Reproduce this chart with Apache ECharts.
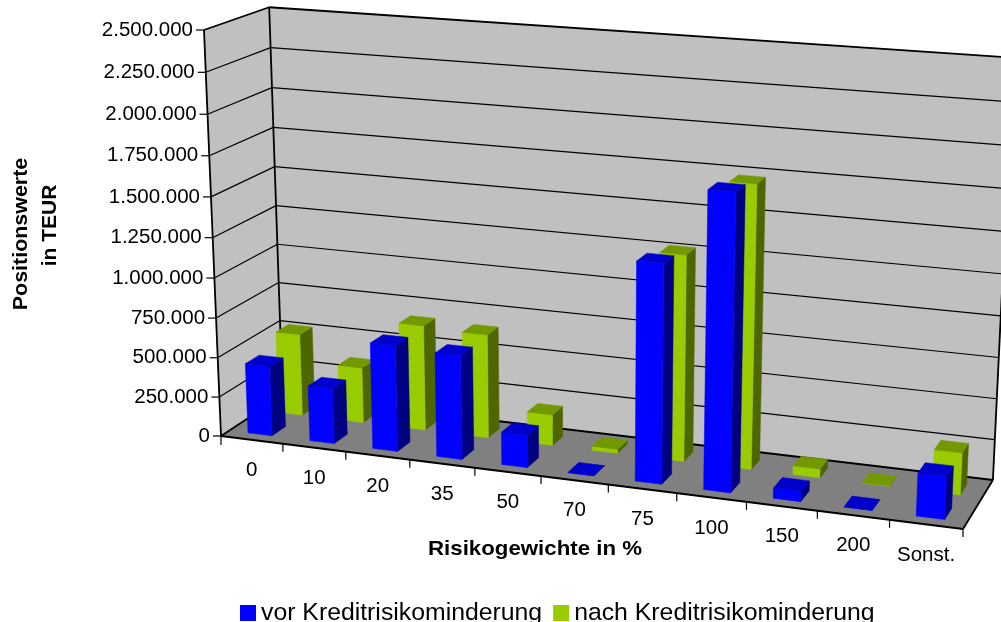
<!DOCTYPE html>
<html>
<head>
<meta charset="utf-8">
<style>html,body{margin:0;padding:0;background:#fff}#chart{width:1001px;height:622px}</style>
<script src="https://cdn.jsdelivr.net/npm/echarts@6/dist/echarts.min.js"></script>
</head>
<body>
<div id="chart"></div>
<script>
// Exposure values by risk weight, in TEUR
const categories = ['0', '10', '20', '35', '50', '70', '75', '100', '150', '200', 'Sonst.'];
const vorValues = [444000, 348000, 663000, 646000, 202000, 1500, 1327000, 1780000, 62000, 1500, 256000];
const nachValues = [525000, 354000, 668000, 655000, 194000, 25000, 1271000, 1731000, 55000, 1500, 255000];
const yTickValues = [0, 250000, 500000, 750000, 1000000, 1250000, 1500000, 1750000, 2000000, 2250000, 2500000];
const yTickLabels = ['0', '250.000', '500.000', '750.000', '1.000.000', '1.250.000', '1.500.000', '1.750.000', '2.000.000', '2.250.000', '2.500.000'];

const FONT = '"Liberation Sans", Arial, sans-serif';
const plot = { left: 221, top: 30, width: 742, height: 406 };

// Perspective box: the origin corner plus one projective column per world axis.
const origin = [221, 436];
const colU = axisColumn([963, 529], 0.91);
const colV = axisColumn([204, 30], 0.955);
const colZ = axisColumn([282.6, 395.5], 1.0484);

function axisColumn(p, w) {
  return [w * p[0] - origin[0], w * p[1] - origin[1], w - 1];
}
function project(u, v, z) {
  const h = 1 + u * colU[2] + v * colV[2] + z * colZ[2];
  return [
    (origin[0] + u * colU[0] + v * colV[0] + z * colZ[0]) / h,
    (origin[1] + u * colU[1] + v * colV[1] + z * colZ[1]) / h
  ];
}
// Pixel position on the flat grid -> unit coordinates of the box
function unit(api, cat, val) {
  const p = api.coord([cat, val]);
  return [(p[0] - plot.left) / plot.width, (plot.top + plot.height - p[1]) / plot.height];
}
function poly(points, fill, stroke, lineWidth) {
  return {
    type: 'polygon',
    shape: { points },
    style: { fill, stroke: stroke || fill, lineWidth: lineWidth === undefined ? 0.5 : lineWidth }
  };
}
function line(a, b, width) {
  return {
    type: 'line',
    shape: { x1: a[0], y1: a[1], x2: b[0], y2: b[1] },
    style: { stroke: '#000', lineWidth: width, fill: null }
  };
}
function label(text, x, y, align) {
  return {
    type: 'text',
    style: { text, x, y, fill: '#000', font: '20.5px ' + FONT, align, verticalAlign: 'middle' }
  };
}

// Walls, floor, gridlines, ticks and tick labels
function renderFrame(params, api) {
  const children = [];
  const P = (u, v, z) => project(u, v, z);
  children.push(poly([P(0, 0, 0), P(0, 0, 1), P(0, 1, 1), P(0, 1, 0)], '#c0c0c0'));
  children.push(poly([P(0, 0, 1), P(1, 0, 1), P(1, 1, 1), P(0, 1, 1)], '#c0c0c0'));
  children.push(poly([P(0, 0, 0), P(1, 0, 0), P(1, 0, 1), P(0, 0, 1)], '#808080'));

  yTickValues.forEach((val, i) => {
    const v = unit(api, 0, val)[1];
    const front = P(0, v, 0), back = P(0, v, 1), right = P(1, v, 1);
    if (i > 0 && i < yTickValues.length - 1) {
      children.push(line(front, back, 1.2), line(back, right, 1.2));
    }
    children.push(line([front[0] - 8, front[1]], front, 1.2));
    children.push(label(yTickLabels[i], front[0] - 11, front[1], 'right'));
  });

  [[P(0, 0, 0), P(0, 1, 0)], [P(0, 1, 0), P(0, 1, 1)], [P(0, 1, 1), P(1, 1, 1)],
   [P(0, 1, 1), P(0, 0, 1)], [P(0, 0, 1), P(1, 0, 1)], [P(1, 0, 1), P(1, 1, 1)],
   [P(0, 0, 0), P(1, 0, 0)], [P(1, 0, 0), P(1, 0, 1)], [P(0, 0, 0), P(0, 0, 1)]]
    .forEach(e => children.push(line(e[0], e[1], 1.8)));

  categories.forEach((name, i) => {
    const edge = P((i + 1) / categories.length, 0, 0);
    children.push(line(edge, [edge[0], edge[1] + 8], 1.2));
    const mid = P((i + 0.5) / categories.length, 0, 0);
    children.push(label(name, mid[0], mid[1] + 30.5, 'center'));
  });
  const start = P(0, 0, 0);
  children.push(line(start, [start[0], start[1] + 9], 1.2));
  return { type: 'group', children };
}

// One extruded column: front, right side and top faces
function barRenderer(zNear, zFar, colors) {
  return function (params, api) {
    const cat = api.value(0);
    const val = api.value(1);
    const band = api.size([1, 0])[0] / plot.width;
    const top = unit(api, cat, val);
    const u0 = top[0] - band * 0.195;
    const u1 = top[0] + band * 0.195;
    const v = top[1];
    return {
      type: 'group',
      children: [
        poly([project(u1, 0, zNear), project(u1, 0, zFar), project(u1, v, zFar), project(u1, v, zNear)], colors.side),
        poly([project(u0, 0, zNear), project(u1, 0, zNear), project(u1, v, zNear), project(u0, v, zNear)], colors.front),
        poly([project(u0, v, zNear), project(u1, v, zNear), project(u1, v, zFar), project(u0, v, zFar)], colors.top)
      ]
    };
  };
}

const chart = echarts.init(document.getElementById('chart'), null, { renderer: 'canvas' });
chart.setOption({
  animation: false,
  backgroundColor: '#ffffff',
  grid: { left: plot.left, top: plot.top, width: plot.width, height: plot.height },
  xAxis: { type: 'category', data: categories, show: false },
  yAxis: { type: 'value', min: 0, max: 2500000, interval: 250000, show: false },
  legend: {
    data: ['vor Kreditrisikominderung', 'nach Kreditrisikominderung'],
    left: 240,
    top: 600.5,
    padding: 0,
    itemWidth: 16,
    itemHeight: 16,
    itemGap: 11,
    icon: 'rect',
    selectedMode: false,
    textStyle: { fontFamily: FONT, fontSize: 24.8, color: '#000', padding: [0, 0, 6, 0] }
  },
  graphic: [
    {
      type: 'text', x: 21, y: 234, rotation: Math.PI / 2, scaleX: 1.02,
      style: { text: 'Positionswerte', font: 'bold 21px ' + FONT, fill: '#000', align: 'center', verticalAlign: 'middle' }
    },
    {
      type: 'text', x: 50, y: 225.5, rotation: Math.PI / 2,
      style: { text: 'in TEUR', font: 'bold 21px ' + FONT, fill: '#000', align: 'center', verticalAlign: 'middle' }
    },
    {
      type: 'text', x: 535, y: 549, scaleX: 1.06,
      style: { text: 'Risikogewichte in %', font: 'bold 21px ' + FONT, fill: '#000', align: 'center', verticalAlign: 'middle' }
    }
  ],
  series: [
    {
      type: 'custom', name: 'frame', silent: true, z: 1,
      data: [[0, 0]], encode: { x: 0, y: 1 },
      renderItem: renderFrame
    },
    {
      type: 'custom', name: 'vor Kreditrisikominderung', z: 3, silent: true,
      itemStyle: { color: '#0000ff' },
      data: vorValues.map((v, i) => [i, v]), encode: { x: 0, y: 1 },
      renderItem: barRenderer(0.13, 0.35, { front: '#0000ff', side: '#000080', top: '#0000cc' })
    },
    {
      type: 'custom', name: 'nach Kreditrisikominderung', z: 2, silent: true,
      itemStyle: { color: '#99cc00' },
      data: nachValues.map((v, i) => [i, v]), encode: { x: 0, y: 1 },
      renderItem: barRenderer(0.63, 0.84, { front: '#99cc00', side: '#4d6600', top: '#739900' })
    }
  ]
});
</script>
</body>
</html>
